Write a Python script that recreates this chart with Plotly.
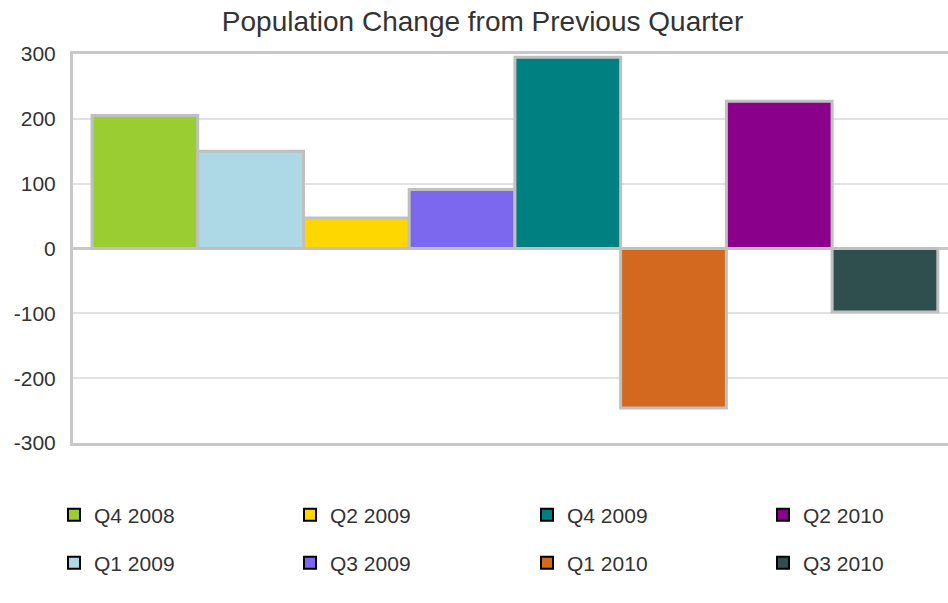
import plotly.graph_objects as go

quarters = ["Q4 2008", "Q1 2009", "Q2 2009", "Q3 2009", "Q4 2009", "Q1 2010", "Q2 2010", "Q3 2010"]
changes = [205, 150, 47, 91, 295, -246, 227, -98]
colors = ["#9ACD32", "#ADD8E6", "#FFD700", "#7B68EE", "#008080", "#D2691E", "#8B008B", "#2F4F4F"]
y_ticks = [-300, -200, -100, 0, 100, 200, 300]
y_tick_text = ["-300", "-200", "-100", "0", "100", "200", "300"]

FONT = "Liberation Sans, Arial, sans-serif"
TXT = "#333333"

fig = go.Figure()
for q, v, c in zip(quarters, changes, colors):
    fig.add_trace(go.Bar(
        x=["all"], y=[v], name=q, showlegend=False,
        marker=dict(color=c, line=dict(color="#c0c0c0", width=3)),
    ))

# legend grid: column-first, 4 columns x 2 rows, one legend per entry
col_x = [54, 290, 527, 763]
row_y = [515, 563]
legend_layout = {}
for i, q in enumerate(quarters):
    col, row = divmod(i, 2)
    key = "legend" if i == 0 else f"legend{i + 1}"
    fig.add_trace(go.Scatter(
        x=[None], y=[None], mode="markers", name=q,
        legend=key, showlegend=True,
        marker=dict(symbol="square", size=12, color=colors[i],
                    line=dict(color="black", width=2)),
    ))
    legend_layout[key] = dict(
        x=col_x[col] / 948, y=1 - row_y[row] / 603,
        xref="container", yref="container",
        xanchor="left", yanchor="middle", orientation="h",
        font=dict(family=FONT, size=21, color=TXT),
        bgcolor="rgba(0,0,0,0)", borderwidth=0,
        itemclick=False, itemdoubleclick=False,
    )

fig.update_layout(
    width=948, height=603,
    margin=dict(l=73, r=0, t=54, b=160),
    paper_bgcolor="white", plot_bgcolor="white",
    barmode="group", bargap=0.043, bargroupgap=0,
    title=dict(text="Population Change from Previous Quarter",
               x=0.509, xref="container", xanchor="center",
               y=1 - 21 / 603, yref="container", yanchor="middle",
               font=dict(family=FONT, size=28, color=TXT)),
    xaxis=dict(type="category", range=[-0.5, 0.49], showticklabels=False,
               showgrid=False, showline=True, mirror=True,
               linecolor="#c8c8c8", linewidth=3, zeroline=False),
    yaxis=dict(range=[-300, 300], tickvals=y_ticks, ticktext=y_tick_text, ticks="",
               showgrid=True, gridcolor="#e2e2e2", gridwidth=2,
               zeroline=True, zerolinecolor="#c8c8c8", zerolinewidth=3,
               showline=True, linecolor="#c8c8c8", linewidth=3,
               ticklabelstandoff=10,
               tickfont=dict(family=FONT, size=21, color=TXT)),
    showlegend=True,
    **legend_layout,
)

fig.write_html("out.html", config={"displayModeBar": False},
               post_script="document.body.style.margin='0';")
